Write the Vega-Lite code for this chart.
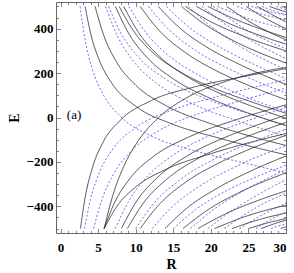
{
  "$schema": "https://vega.github.io/schema/vega-lite/v6.json",
  "width": 230,
  "height": 231,
  "autosize": {"type": "none"},
  "padding": {"left": 56, "top": 2, "right": 8, "bottom": 40},
  "background": "white",
  "config": {
    "view": {"stroke": "#666", "strokeWidth": 1},
    "axis": {
      "domain": false, "grid": false,
      "labelFont": "Liberation Serif", "labelFontWeight": "bold", "labelFontSize": 13, "labelColor": "#000",
      "titleFont": "Liberation Serif", "titleFontWeight": "bold", "titleFontSize": 14, "titleColor": "#000",
      "tickColor": "#666", "tickWidth": 0.8
    }
  },
  "datasets": {
    "label": [{"R": 1.8, "E": 10, "t": "(a)"}],
    "curves": [
      {"c":"d1","s":"b","R":2.6,"E":500},{"c":"d1","s":"b","R":3.25,"E":354},{"c":"d1","s":"b","R":4.2,"E":222},{"c":"d1","s":"b","R":5.7,"E":102},{"c":"d1","s":"b","R":8,"E":4},{"c":"d1","s":"b","R":12,"E":-82},{"c":"d1","s":"b","R":18,"E":-151},{"c":"d1","s":"b","R":24,"E":-201},{"c":"d1","s":"b","R":30,"E":-249},
      {"c":"d2","s":"k","R":3.27,"E":500},{"c":"d2","s":"k","R":4.1,"E":366},{"c":"d2","s":"k","R":5.2,"E":255},{"c":"d2","s":"k","R":7,"E":146},{"c":"d2","s":"k","R":10,"E":51},{"c":"d2","s":"k","R":15,"E":-31},{"c":"d2","s":"k","R":21,"E":-92},{"c":"d2","s":"k","R":30,"E":-168},
      {"c":"d3","s":"k","R":4.6,"E":500},{"c":"d3","s":"k","R":5.75,"E":370},{"c":"d3","s":"k","R":7.4,"E":253},{"c":"d3","s":"k","R":10,"E":146},{"c":"d3","s":"k","R":14,"E":54},{"c":"d3","s":"k","R":20,"E":-28},{"c":"d3","s":"k","R":30,"E":-126},
      {"c":"d4","s":"b","R":6,"E":500},{"c":"d4","s":"b","R":7.5,"E":372},{"c":"d4","s":"b","R":9.6,"E":258},{"c":"d4","s":"b","R":13,"E":149},{"c":"d4","s":"b","R":18,"E":55},{"c":"d4","s":"b","R":24,"E":-20},{"c":"d4","s":"b","R":30,"E":-84},
      {"c":"d5","s":"b","R":6.4,"E":500},{"c":"d5","s":"b","R":8,"E":382},{"c":"d5","s":"b","R":10.2,"E":278},{"c":"d5","s":"b","R":14,"E":173},{"c":"d5","s":"b","R":19,"E":89},{"c":"d5","s":"b","R":24,"E":28},{"c":"d5","s":"b","R":30,"E":-35},
      {"c":"d6","s":"k","R":7.3,"E":500},{"c":"d6","s":"k","R":9.1,"E":377},{"c":"d6","s":"k","R":11.7,"E":264},{"c":"d6","s":"k","R":15,"E":174},{"c":"d6","s":"k","R":20,"E":85},{"c":"d6","s":"k","R":25,"E":20},{"c":"d6","s":"k","R":30,"E":-37},
      {"c":"d7","s":"k","R":7.8,"E":500},{"c":"d7","s":"k","R":9.75,"E":388},{"c":"d7","s":"k","R":12.5,"E":286},{"c":"d7","s":"k","R":16,"E":204},{"c":"d7","s":"k","R":21,"E":124},{"c":"d7","s":"k","R":25,"E":75},{"c":"d7","s":"k","R":30,"E":19},
      {"c":"d8","s":"k","R":8.4,"E":500},{"c":"d8","s":"k","R":10.5,"E":377},{"c":"d8","s":"k","R":13.4,"E":268},{"c":"d8","s":"k","R":17,"E":181},{"c":"d8","s":"k","R":22,"E":97},{"c":"d8","s":"k","R":26,"E":44},{"c":"d8","s":"k","R":30,"E":-4},
      {"c":"d9","s":"b","R":9.1,"E":500},{"c":"d9","s":"b","R":11.4,"E":380},{"c":"d9","s":"b","R":14.5,"E":276},{"c":"d9","s":"b","R":19,"E":179},{"c":"d9","s":"b","R":24,"E":102},{"c":"d9","s":"b","R":30,"E":26},
      {"c":"d10","s":"k","R":10.6,"E":500},{"c":"d10","s":"k","R":13.2,"E":389},{"c":"d10","s":"k","R":16.5,"E":295},{"c":"d10","s":"k","R":21,"E":206},{"c":"d10","s":"k","R":25,"E":145},{"c":"d10","s":"k","R":30,"E":80},
      {"c":"d11","s":"b","R":11.7,"E":500},{"c":"d11","s":"b","R":14.5,"E":393},{"c":"d11","s":"b","R":18,"E":301},{"c":"d11","s":"b","R":22,"E":226},{"c":"d11","s":"b","R":26,"E":164},{"c":"d11","s":"b","R":30,"E":110},
      {"c":"d12","s":"k","R":13,"E":500},{"c":"d12","s":"k","R":16,"E":399},{"c":"d12","s":"k","R":19.5,"E":316},{"c":"d12","s":"k","R":24,"E":236},{"c":"d12","s":"k","R":30,"E":149},
      {"c":"d13","s":"b","R":14.1,"E":500},{"c":"d13","s":"b","R":17,"E":409},{"c":"d13","s":"b","R":20.5,"E":330},{"c":"d13","s":"b","R":25,"E":251},{"c":"d13","s":"b","R":30,"E":176},
      {"c":"d14","s":"k","R":16.1,"E":500},{"c":"d14","s":"k","R":19,"E":424},{"c":"d14","s":"k","R":23,"E":346},{"c":"d14","s":"k","R":30,"E":245},
      {"c":"d15","s":"k","R":16.6,"E":500},{"c":"d15","s":"k","R":19.5,"E":440},{"c":"d15","s":"k","R":24,"E":371},{"c":"d15","s":"k","R":30,"E":300},
      {"c":"d16","s":"b","R":17,"E":500},{"c":"d16","s":"b","R":20,"E":410},{"c":"d16","s":"b","R":24,"E":318},{"c":"d16","s":"b","R":30,"E":215},
      {"c":"d17","s":"k","R":18.1,"E":500},{"c":"d17","s":"k","R":22,"E":430},{"c":"d17","s":"k","R":26,"E":376},{"c":"d17","s":"k","R":30,"E":330},
      {"c":"d18","s":"b","R":18.8,"E":500},{"c":"d18","s":"b","R":22.5,"E":406},{"c":"d18","s":"b","R":26,"E":334},{"c":"d18","s":"b","R":30,"E":265},
      {"c":"d19","s":"k","R":19.6,"E":500},{"c":"d19","s":"k","R":23,"E":446},{"c":"d19","s":"k","R":26.5,"E":400},{"c":"d19","s":"k","R":30,"E":360},
      {"c":"d20","s":"b","R":20.3,"E":500},{"c":"d20","s":"b","R":25,"E":389},{"c":"d20","s":"b","R":30,"E":310},
      {"c":"d21","s":"b","R":20.9,"E":500},{"c":"d21","s":"b","R":25.5,"E":440},{"c":"d21","s":"b","R":30,"E":400},
      {"c":"d22","s":"k","R":22.1,"E":500},{"c":"d22","s":"k","R":26,"E":415},{"c":"d22","s":"k","R":30,"E":350},
      {"c":"d23","s":"b","R":23.5,"E":500},{"c":"d23","s":"b","R":26.7,"E":466},{"c":"d23","s":"b","R":30,"E":440},
      {"c":"d24","s":"k","R":24.7,"E":500},{"c":"d24","s":"k","R":27.3,"E":446},{"c":"d24","s":"k","R":30,"E":400},
      {"c":"d25","s":"b","R":25.4,"E":500},{"c":"d25","s":"b","R":27.7,"E":478},{"c":"d25","s":"b","R":30,"E":460},
      {"c":"d26","s":"k","R":26.2,"E":500},{"c":"d26","s":"k","R":28.1,"E":464},{"c":"d26","s":"k","R":30,"E":430},
      {"c":"d27","s":"b","R":26.8,"E":500},{"c":"d27","s":"b","R":28.4,"E":480},{"c":"d27","s":"b","R":30,"E":463},
      {"c":"d28","s":"k","R":27.8,"E":500},{"c":"d28","s":"k","R":28.9,"E":487},{"c":"d28","s":"k","R":30,"E":475},
      {"c":"d29","s":"b","R":28.7,"E":500},{"c":"d29","s":"b","R":30,"E":486},
      {"c":"d30","s":"k","R":29.4,"E":500},{"c":"d30","s":"k","R":30,"E":494},
      {"c":"u1","s":"k","R":2.65,"E":-500},{"c":"u1","s":"k","R":3.3,"E":-356},{"c":"u1","s":"k","R":4.2,"E":-231},{"c":"u1","s":"k","R":5.7,"E":-109},{"c":"u1","s":"k","R":8,"E":-11},{"c":"u1","s":"k","R":12,"E":75},{"c":"u1","s":"k","R":18,"E":139},{"c":"u1","s":"k","R":24,"E":182},{"c":"u1","s":"k","R":30,"E":220},
      {"c":"u2","s":"b","R":3.2,"E":-500},{"c":"u2","s":"b","R":4,"E":-368},{"c":"u2","s":"b","R":5.1,"E":-254},{"c":"u2","s":"b","R":7,"E":-140},{"c":"u2","s":"b","R":10,"E":-46},{"c":"u2","s":"b","R":15,"E":35},{"c":"u2","s":"b","R":21,"E":95},{"c":"u2","s":"b","R":30,"E":170},
      {"c":"u3","s":"b","R":4.4,"E":-500},{"c":"u3","s":"b","R":5.5,"E":-370},{"c":"u3","s":"b","R":7,"E":-258},{"c":"u3","s":"b","R":9.5,"E":-148},{"c":"u3","s":"b","R":13,"E":-61},{"c":"u3","s":"b","R":19,"E":24},{"c":"u3","s":"b","R":24,"E":76},{"c":"u3","s":"b","R":30,"E":132},
      {"c":"u4a","s":"k","R":5.8,"E":-500},{"c":"u4a","s":"k","R":7,"E":-346},{"c":"u4a","s":"k","R":8.5,"E":-214},{"c":"u4a","s":"k","R":10.5,"E":-97},{"c":"u4a","s":"k","R":13,"E":-2},{"c":"u4a","s":"k","R":17,"E":93},{"c":"u4a","s":"k","R":22,"E":163},{"c":"u4a","s":"k","R":30,"E":226},
      {"c":"u4b","s":"k","R":5.8,"E":-500},{"c":"u4b","s":"k","R":7.2,"E":-383},{"c":"u4b","s":"k","R":9.3,"E":-272},{"c":"u4b","s":"k","R":12.5,"E":-172},{"c":"u4b","s":"k","R":17,"E":-89},{"c":"u4b","s":"k","R":23,"E":-14},{"c":"u4b","s":"k","R":30,"E":57},
      {"c":"u4c","s":"k","R":5.8,"E":-500},{"c":"u4c","s":"k","R":7.5,"E":-400},{"c":"u4c","s":"k","R":10,"E":-313},{"c":"u4c","s":"k","R":14,"E":-234},{"c":"u4c","s":"k","R":20,"E":-163},{"c":"u4c","s":"k","R":30,"E":-72},
      {"c":"u5","s":"b","R":7.3,"E":-500},{"c":"u5","s":"b","R":9.1,"E":-375},{"c":"u5","s":"b","R":11.7,"E":-260},{"c":"u5","s":"b","R":15,"E":-169},{"c":"u5","s":"b","R":20,"E":-79},{"c":"u5","s":"b","R":25,"E":-13},{"c":"u5","s":"b","R":30,"E":45},
      {"c":"u6","s":"k","R":8.1,"E":-500},{"c":"u6","s":"k","R":10.1,"E":-378},{"c":"u6","s":"k","R":13,"E":-267},{"c":"u6","s":"k","R":17,"E":-170},{"c":"u6","s":"k","R":22,"E":-88},{"c":"u6","s":"k","R":26,"E":-36},{"c":"u6","s":"k","R":30,"E":11},
      {"c":"u7","s":"k","R":8.9,"E":-500},{"c":"u7","s":"k","R":11.1,"E":-382},{"c":"u7","s":"k","R":14.2,"E":-276},{"c":"u7","s":"k","R":18.5,"E":-181},{"c":"u7","s":"k","R":24,"E":-97},{"c":"u7","s":"k","R":30,"E":-22},
      {"c":"u8","s":"b","R":10,"E":-500},{"c":"u8","s":"b","R":12.5,"E":-383},{"c":"u8","s":"b","R":16,"E":-278},{"c":"u8","s":"b","R":21,"E":-178},{"c":"u8","s":"b","R":25,"E":-118},{"c":"u8","s":"b","R":30,"E":-53},
      {"c":"u9","s":"k","R":10.6,"E":-500},{"c":"u9","s":"k","R":13.2,"E":-389},{"c":"u9","s":"k","R":16.5,"E":-295},{"c":"u9","s":"k","R":21,"E":-206},{"c":"u9","s":"k","R":25,"E":-145},{"c":"u9","s":"k","R":30,"E":-80},
      {"c":"u10","s":"b","R":12.2,"E":-500},{"c":"u10","s":"b","R":15,"E":-398},{"c":"u10","s":"b","R":18.5,"E":-309},{"c":"u10","s":"b","R":23,"E":-226},{"c":"u10","s":"b","R":30,"E":-127},
      {"c":"u11","s":"k","R":13.9,"E":-500},{"c":"u11","s":"k","R":17,"E":-403},{"c":"u11","s":"k","R":20.5,"E":-325},{"c":"u11","s":"k","R":25,"E":-246},{"c":"u11","s":"k","R":30,"E":-173},
      {"c":"u12","s":"b","R":15,"E":-500},{"c":"u12","s":"b","R":18,"E":-414},{"c":"u12","s":"b","R":22,"E":-331},{"c":"u12","s":"b","R":26,"E":-268},{"c":"u12","s":"b","R":30,"E":-215},
      {"c":"u13","s":"k","R":16.3,"E":-500},{"c":"u13","s":"k","R":19.5,"E":-418},{"c":"u13","s":"k","R":24,"E":-334},{"c":"u13","s":"k","R":30,"E":-249},
      {"c":"u14","s":"b","R":17.3,"E":-500},{"c":"u14","s":"b","R":20.5,"E":-411},{"c":"u14","s":"b","R":25,"E":-318},{"c":"u14","s":"b","R":30,"E":-235},
      {"c":"u15","s":"k","R":18.3,"E":-500},{"c":"u15","s":"k","R":22,"E":-433},{"c":"u15","s":"k","R":26,"E":-377},{"c":"u15","s":"k","R":30,"E":-330},
      {"c":"u16","s":"b","R":19.6,"E":-500},{"c":"u16","s":"b","R":23,"E":-415},{"c":"u16","s":"b","R":26.5,"E":-343},{"c":"u16","s":"b","R":30,"E":-280},
      {"c":"u17","s":"k","R":20.5,"E":-500},{"c":"u17","s":"k","R":25,"E":-441},{"c":"u17","s":"k","R":30,"E":-395},
      {"c":"u18","s":"b","R":21.8,"E":-500},{"c":"u18","s":"b","R":26,"E":-406},{"c":"u18","s":"b","R":30,"E":-340},
      {"c":"u19","s":"k","R":22.8,"E":-500},{"c":"u19","s":"k","R":26.4,"E":-460},{"c":"u19","s":"k","R":30,"E":-430},
      {"c":"u20","s":"b","R":23.8,"E":-500},{"c":"u20","s":"b","R":27,"E":-435},{"c":"u20","s":"b","R":30,"E":-385},
      {"c":"u21","s":"k","R":25,"E":-500},{"c":"u21","s":"k","R":27.5,"E":-475},{"c":"u21","s":"k","R":30,"E":-455},
      {"c":"u22","s":"b","R":26,"E":-500},{"c":"u22","s":"b","R":28,"E":-459},{"c":"u22","s":"b","R":30,"E":-425},
      {"c":"u23","s":"k","R":26.7,"E":-500},{"c":"u23","s":"k","R":28.4,"E":-479},{"c":"u23","s":"k","R":30,"E":-462},
      {"c":"u24","s":"b","R":28,"E":-500},{"c":"u24","s":"b","R":29,"E":-488},{"c":"u24","s":"b","R":30,"E":-478},
      {"c":"u25","s":"k","R":29.3,"E":-500},{"c":"u25","s":"k","R":30,"E":-492}
    ]
  },
  "resolve": {"axis": {"x": "independent", "y": "independent"}},
  "layer": [
    {
      "data": {"name": "curves"},
      "mark": {"type": "line", "interpolate": "monotone", "clip": true, "strokeWidth": 0.8},
      "encoding": {
        "x": {"field": "R", "type": "quantitative",
              "scale": {"domain": [-0.6, 30], "nice": false, "zero": false},
              "axis": {"orient": "bottom", "values": [0, 5, 10, 15, 20, 25, 30], "ticks": false, "labelPadding": 8, "title": "R", "titlePadding": 3}},
        "y": {"field": "E", "type": "quantitative",
              "scale": {"domain": [-520, 520], "nice": false, "zero": false},
              "axis": {"orient": "left", "values": [-400, -200, 0, 200, 400], "ticks": false, "labelPadding": 3, "title": "E", "titlePadding": 5}},
        "detail": {"field": "c"},
        "color": {"field": "s", "type": "nominal", "scale": {"domain": ["k", "b"], "range": ["#222222", "#4646f5"]}, "legend": null},
        "strokeDash": {"field": "s", "type": "nominal", "scale": {"domain": ["k", "b"], "range": [[1, 0], [2, 2]]}, "legend": null}
      }
    },
    {
      "data": {"name": "label"},
      "mark": {"type": "text", "font": "Liberation Serif", "fontSize": 13, "color": "#000", "align": "center", "baseline": "middle"},
      "encoding": {
        "x": {"field": "R", "type": "quantitative",
              "scale": {"domain": [-0.6, 30], "nice": false, "zero": false},
              "axis": {"orient": "bottom", "labels": false, "title": null,
                       "values": [0,1,2,3,4,5,6,7,8,9,10,11,12,13,14,15,16,17,18,19,20,21,22,23,24,25,26,27,28,29,30],
                       "tickSize": {"condition": {"test": "datum.value % 5 === 0", "value": -4.5}, "value": -2.5}}},
        "y": {"field": "E", "type": "quantitative",
              "scale": {"domain": [-520, 520], "nice": false, "zero": false},
              "axis": {"orient": "left", "labels": false, "title": null,
                       "values": [-500,-450,-400,-350,-300,-250,-200,-150,-100,-50,0,50,100,150,200,250,300,350,400,450,500],
                       "tickSize": {"condition": {"test": "datum.value % 200 === 0", "value": -4.5}, "value": -2.5}}},
        "text": {"field": "t"}
      }
    },
    {
      "data": {"name": "label"},
      "mark": {"type": "point", "opacity": 0},
      "encoding": {
        "x": {"field": "R", "type": "quantitative",
              "scale": {"domain": [-0.6, 30], "nice": false, "zero": false},
              "axis": {"orient": "top", "labels": false, "title": null,
                       "values": [0,1,2,3,4,5,6,7,8,9,10,11,12,13,14,15,16,17,18,19,20,21,22,23,24,25,26,27,28,29,30],
                       "tickSize": {"condition": {"test": "datum.value % 5 === 0", "value": -4.5}, "value": -2.5}}},
        "y": {"field": "E", "type": "quantitative",
              "scale": {"domain": [-520, 520], "nice": false, "zero": false},
              "axis": {"orient": "right", "labels": false, "title": null,
                       "values": [-500,-450,-400,-350,-300,-250,-200,-150,-100,-50,0,50,100,150,200,250,300,350,400,450,500],
                       "tickSize": {"condition": {"test": "datum.value % 200 === 0", "value": -4.5}, "value": -2.5}}}
      }
    }
  ]
}
